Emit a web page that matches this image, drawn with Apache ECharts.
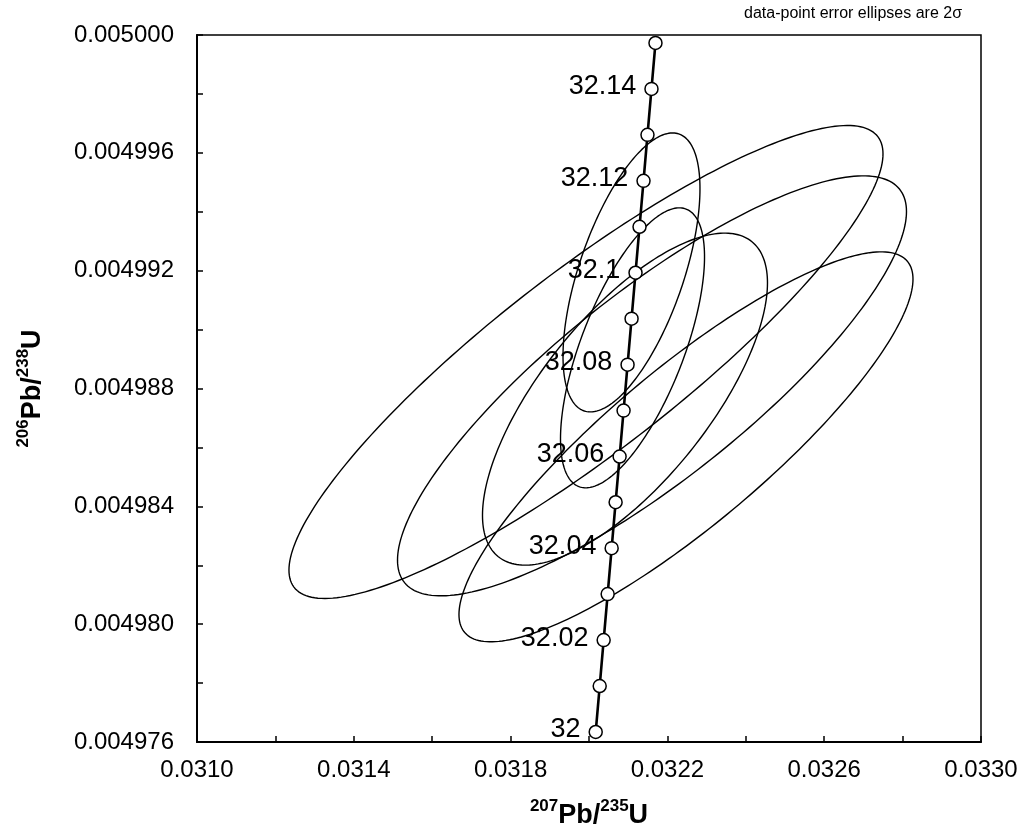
<!DOCTYPE html>
<html>
<head>
<meta charset="utf-8">
<title>Concordia diagram</title>
<script src="https://cdn.jsdelivr.net/npm/echarts@6/dist/echarts.min.js"></script>
<style>
  html, body { margin: 0; padding: 0; background: #fff; }
  #chart { width: 1024px; height: 834px; }
</style>
</head>
<body>
<div id="chart"></div>
<script>
// Concordia curve: ages (Ma) and the ratio pairs at each age
const concordiaAges = [32.00, 32.01, 32.02, 32.03, 32.04, 32.05, 32.06, 32.07,
                       32.08, 32.09, 32.10, 32.11, 32.12, 32.13, 32.14, 32.15];
const concordiaPb207U235 = [0.0320171, 0.0320273, 0.0320374, 0.0320476, 0.0320578, 0.0320679,
                            0.0320781, 0.0320882, 0.0320984, 0.0321086, 0.0321187, 0.0321289,
                            0.0321391, 0.0321492, 0.0321594, 0.0321696];
const concordiaPb206U238 = [0.00497634, 0.00497790, 0.00497946, 0.00498102, 0.00498258, 0.00498414,
                            0.00498569, 0.00498725, 0.00498881, 0.00499037, 0.00499193, 0.00499349,
                            0.00499505, 0.00499661, 0.00499817, 0.00499973];

// Data-point error ellipses (2 sigma): centre, half-widths and error correlation
const ellipseX     = [0.0321084, 0.0321110, 0.0319923, 0.0321607, 0.0320918, 0.0322474];
const ellipseY     = [0.00499194, 0.00498938, 0.00498890, 0.00498809, 0.00498764, 0.00498602];
const ellipseErrX  = [0.0001747, 0.0001837, 0.0007577, 0.0006492, 0.0003635, 0.0005791];
const ellipseErrY  = [0.000004735, 0.000004752, 0.000008028, 0.000007128, 0.000005635, 0.000006619];
const ellipseRho   = [0.60, 0.65, 0.88, 0.83, 0.70, 0.86];

// Axis settings
const xMin = 0.0310, xMax = 0.0330, xStep = 0.0002;
const yMin = 0.004976, yMax = 0.005000, yStep = 0.000002;

const FONT = 'Liberation Sans, Arial, sans-serif';

const concordiaData = concordiaAges.map((a, i) => [concordiaPb207U235[i], concordiaPb206U238[i], a]);
const ellipseData = ellipseX.map((x, i) => [x, ellipseY[i], ellipseErrX[i], ellipseErrY[i], ellipseRho[i]]);

function renderEllipse(params, api) {
  const cx = api.value(0), cy = api.value(1);
  const ex = api.value(2), ey = api.value(3), r = api.value(4);
  const s = Math.sqrt(1 - r * r);
  const pts = [];
  const n = 240;
  for (let k = 0; k < n; k++) {
    const t = 2 * Math.PI * k / n;
    const c = Math.cos(t), sn = Math.sin(t);
    pts.push(api.coord([cx + ex * c, cy + ey * (r * c + s * sn)]));
  }
  return {
    type: 'polygon',
    shape: { points: pts },
    style: { fill: 'none', stroke: '#000', lineWidth: 1.4 }
  };
}

const titleRich = {
  main: { fontSize: 27, fontWeight: 'bold', fontFamily: FONT, color: '#000', lineHeight: 31, verticalAlign: 'bottom' },
  sup: { fontSize: 17, fontWeight: 'bold', fontFamily: FONT, color: '#000', lineHeight: 31, verticalAlign: 'top' }
};

const chart = echarts.init(document.getElementById('chart'), null, { renderer: 'canvas' });

const option = {
  animation: false,
  backgroundColor: '#fff',
  grid: {
    left: 197, right: 43, top: 35, bottom: 92,
    show: true, borderColor: '#000', borderWidth: 1.5,
    containLabel: false, outerBoundsMode: 'none'
  },
  graphic: [{
    type: 'text',
    right: 62, top: 6,
    style: {
      text: 'data-point error ellipses are 2σ',
      font: '16px ' + FONT,
      fill: '#000'
    }
  }],
  xAxis: {
    type: 'value',
    min: xMin, max: xMax, interval: xStep,
    splitLine: { show: false },
    axisLine: { show: true, onZero: false, lineStyle: { color: '#000', width: 2 } },
    axisTick: { show: true, inside: true, length: 6, lineStyle: { color: '#000', width: 1.5 } },
    axisLabel: {
      margin: 16, color: '#000', fontSize: 24, fontFamily: FONT,
      formatter: v => (Math.round((v - xMin) / xStep) % 2 === 0 ? v.toFixed(4) : '')
    },
    name: '{sup|207}{main|Pb/}{sup|235}{main|U}',
    nameLocation: 'middle', nameGap: 56,
    nameTextStyle: { rich: titleRich }
  },
  yAxis: {
    type: 'value',
    min: yMin, max: yMax, interval: yStep,
    splitLine: { show: false },
    axisLine: { show: true, onZero: false, lineStyle: { color: '#000', width: 2 } },
    axisTick: { show: true, inside: true, length: 6, lineStyle: { color: '#000', width: 1.5 } },
    axisLabel: {
      margin: 23, color: '#000', fontSize: 24, fontFamily: FONT,
      formatter: v => (Math.round((v - yMin) / yStep) % 2 === 0 ? v.toFixed(6) : '')
    },
    name: '{sup|206}{main|Pb/}{sup|238}{main|U}',
    nameLocation: 'middle', nameGap: 151, nameRotate: 90,
    nameTextStyle: { rich: titleRich }
  },
  series: [
    {
      type: 'custom',
      name: 'error ellipses',
      renderItem: renderEllipse,
      data: ellipseData,
      encode: { x: 0, y: 1 },
      clip: true,
      silent: true,
      z: 2
    },
    {
      type: 'line',
      name: 'concordia',
      data: concordiaData,
      z: 5,
      clip: false,
      symbol: 'circle',
      symbolSize: 13,
      showAllSymbol: true,
      lineStyle: { color: '#000', width: 2.6 },
      itemStyle: { color: '#fff', borderColor: '#000', borderWidth: 1.5 },
      label: {
        show: true,
        position: 'left',
        distance: 8,
        offset: [0, -2],
        fontSize: 27,
        fontFamily: FONT,
        color: '#000',
        formatter: p => (p.dataIndex % 2 === 0 && p.dataIndex < 15 ? String(p.value[2]) : '')
      },
      emphasis: { disabled: true }
    }
  ]
};

chart.setOption(option);
</script>
</body>
</html>
